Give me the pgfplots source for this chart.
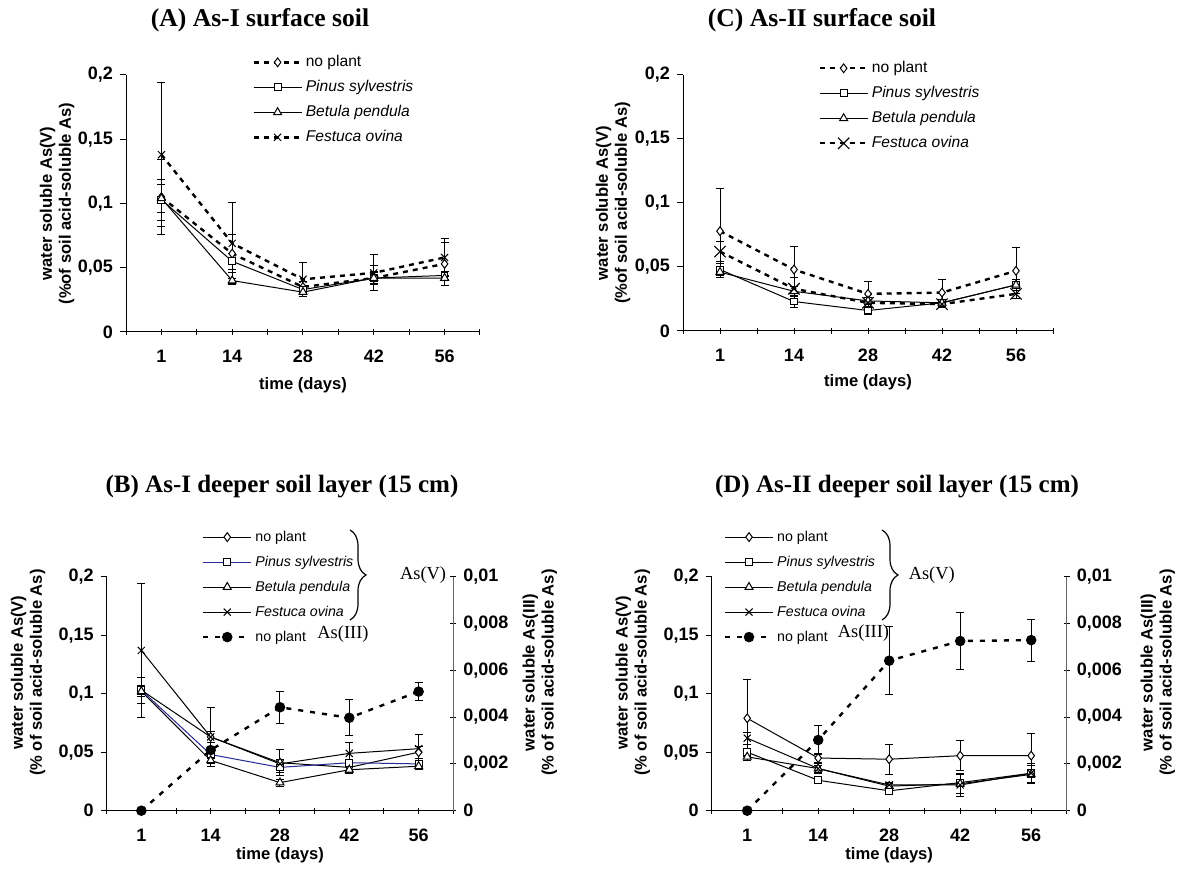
\documentclass[border=0pt]{standalone}
\usepackage{fontspec}
\setmainfont{Liberation Serif}
\setsansfont{Liberation Sans}
\usepackage{pgfplots}
\pgfplotsset{compat=1.18}
\usetikzlibrary{decorations.pathreplacing}

\definecolor{pinusblue}{RGB}{40,40,150}

\pgfplotsset{
  soil/.style={
    scale only axis,
    axis x line=bottom, axis y line=left,
    axis line style={-, line width=0.5pt},
    xmin=-0.5, xmax=4.5, ymin=0, ymax=0.2,
    xtick={0,...,4}, xticklabels={1,14,28,42,56},
    minor xtick={-0.5,0.5,1.5,2.5,3.5,4.5},
    ytick={0,0.05,0.1,0.15,0.2},
    yticklabels={0,{0,05},{0,1},{0,15},{0,2}},
    scaled y ticks=false,
    xtick align=center, ytick align=outside,
    major tick length=3pt, minor tick length=3pt,
    tick style={black, line width=0.5pt},
    tick label style={font=\sffamily\bfseries\fontsize{9}{10}\selectfont},
    xticklabel style={yshift=-4pt},
    label style={font=\sffamily\bfseries\fontsize{8.3}{9.5}\selectfont, align=center},
    clip=false,
    legend cell align=left,
    legend style={draw=none, fill=none, inner sep=0pt, row sep=5pt, column sep=1.5pt,
      nodes={inner sep=0pt, text height=6pt, text depth=1.5pt,
        font=\sffamily\fontsize{7.8}{9}\selectfont}},
    legend image code/.code={\draw[mark repeat=2,mark phase=2,#1]
      plot coordinates {(0pt,0pt) (12pt,0pt) (24pt,0pt)};},
  },
  deep/.style={
    legend style={nodes={font=\sffamily\fontsize{7.1}{8}\selectfont}},
  },
  right3/.style={
    axis x line=none, axis y line=right,
    y axis line style={-, black!60, line width=0.5pt},
    ytick align=center,
    ymin=0, ymax=0.01, ytick={0,0.002,0.004,0.006,0.008,0.01},
    yticklabels={0,{0,002},{0,004},{0,006},{0,008},{0,01}},
    scaled y ticks=false,
    ylabel={water soluble As(III)\\(\% of soil acid-soluble As)},
  },
  eb/.style={/pgfplots/error bars/y dir=both, /pgfplots/error bars/y explicit,
    /pgfplots/error bars/error bar style={solid, black, line width=0.5pt},
    /pgfplots/error bars/error mark options={rotate=90, solid, black, mark size=2pt, line width=0.5pt}},
  sNo/.style={black, line width=1.2pt, dash pattern=on 2.5pt off 2.5pt, mark=diamond*,
    mark options={solid, fill=white, line width=0.5pt, mark size=2.2pt}},
  sNoS/.style={black, line width=0.5pt, mark=diamond*,
    mark options={solid, fill=white, line width=0.5pt, mark size=2.2pt}},
  sPin/.style={black, line width=0.5pt, mark=square*,
    mark options={solid, fill=white, line width=0.5pt, mark size=1.7pt}},
  sPinB/.style={draw=pinusblue, line width=0.5pt, mark=square*,
    mark options={solid, draw=black, fill=white, line width=0.5pt, mark size=1.7pt}},
  sBet/.style={black, line width=0.5pt, mark=triangle*,
    mark options={solid, fill=white, line width=0.5pt, mark size=2.3pt}},
  sFes/.style={black, line width=1.2pt, dash pattern=on 2.5pt off 2.5pt, mark=x,
    mark options={solid, line width=0.5pt, mark size=2.5pt}},
  sFesC/.style={black, line width=1.2pt, dash pattern=on 2.5pt off 2.5pt, mark=x,
    mark options={solid, line width=0.6pt, mark size=4pt}},
  sFesS/.style={black, line width=0.5pt, mark=x,
    mark options={solid, line width=0.5pt, mark size=2.5pt}},
  sIII/.style={black, line width=1.2pt, dash pattern=on 2.5pt off 3.5pt, mark=*,
    mark options={solid, fill=black, mark size=2pt}},
}

\begin{document}
\begin{tikzpicture}
\path[use as bounding box] (0,0) rectangle (589.5pt,435.5pt);

% ---------- (A) ----------
\node[font=\bfseries\fontsize{12.8}{14}\selectfont] at (130pt,425.5pt) {(A) As-I surface soil};
\begin{axis}[soil, at={(63pt,269.5pt)}, anchor=south west, width=177pt, height=128.5pt,
  xlabel={time (days)}, ylabel={water soluble As(V)\\(\%of soil acid-soluble As)},
  xlabel style={at={(axis description cs:0.5,-0.206)}, anchor=center},
  ylabel style={at={(axis description cs:-0.195,0.5)}, anchor=center},
  legend style={at={(0.356,1.08)}, anchor=north west}]
\addplot[sNo, eb] table[x=x,y=y,y error=e] {
x y e
0 0.105 0.029
1 0.061 0.015
2 0.035 0.004
3 0.042 0.010
4 0.053 0.017
};
\addplot[sPin, eb] table[x=x,y=y,y error=e] {
x y e
0 0.103 0.016
1 0.055 0.006
2 0.033 0.003
3 0.042 0.005
4 0.044 0.003
};
\addplot[sBet, eb] table[x=x,y=y,y error=e] {
x y e
0 0.104 0.011
1 0.040 0.002
2 0.031 0.003
3 0.042 0.004
4 0.042 0.002
};
\addplot[sFes, eb] table[x=x,y=y,y error=e] {
x y e
0 0.138 0.056
1 0.069 0.032
2 0.041 0.013
3 0.046 0.014
4 0.058 0.015
};
\addlegendentry{no plant}
\addlegendentry{\textit{Pinus sylvestris}}
\addlegendentry{\textit{Betula pendula}}
\addlegendentry{\textit{Festuca ovina}}
\end{axis}

% ---------- (C) ----------
\node[font=\bfseries\fontsize{12.8}{14}\selectfont] at (411pt,425.5pt) {(C) As-II surface soil};
\begin{axis}[soil, at={(341.5pt,270pt)}, anchor=south west, width=185pt, height=128pt,
  xlabel={time (days)}, ylabel={water soluble As(V)\\(\%of soil acid-soluble As)},
  xlabel style={at={(axis description cs:0.5,-0.2)}, anchor=center},
  ylabel style={at={(axis description cs:-0.189,0.5)}, anchor=center},
  legend style={at={(0.365,1.057)}, anchor=north west}]
\addplot[sNo, eb] table[x=x,y=y,y error=e] {
x y e
0 0.078 0.033
1 0.048 0.018
2 0.029 0.010
3 0.030 0.010
4 0.047 0.018
};
\addplot[sPin, eb] table[x=x,y=y,y error=e] {
x y e
0 0.048 0.005
1 0.023 0.005
2 0.016 0.003
3 0.022 0.002
4 0.036 0.004
};
\addplot[sBet, eb] table[x=x,y=y,y error=e] {
x y e
0 0.046 0.004
1 0.031 0.004
2 0.0235 0.003
3 0.022 0.002
4 0.036 0.003
};
\addplot[sFesC, eb] table[x=x,y=y,y error=e] {
x y e
0 0.062 0.008
1 0.033 0.009
2 0.022 0.004
3 0.021 0.003
4 0.029 0.004
};
\addlegendentry{no plant}
\addlegendentry{\textit{Pinus sylvestris}}
\addlegendentry{\textit{Betula pendula}}
\addlegendentry{\textit{Festuca ovina}}
\end{axis}

% ---------- (B) ----------
\node[font=\bfseries\fontsize{12.5}{14}\selectfont] at (141pt,192pt) {(B) As-I deeper soil layer (15 cm)};
\begin{axis}[soil, deep, at={(53.35pt,30.15pt)}, anchor=south west, width=173.3pt, height=117pt,
  xlabel={time (days)}, ylabel={water soluble As(V)\\(\% of soil acid-soluble As)},
  xlabel style={at={(axis description cs:0.5,-0.19)}, anchor=center},
  ylabel style={at={(axis description cs:-0.227,0.59)}, anchor=center},
  legend style={at={(0.274,1.203)}, anchor=north west}]
\addplot[sNoS, eb] table[x=x,y=y,y error=e] {
x y e
0 0.103 0.011
1 0.063 0.005
2 0.041 0.011
3 0.037 0.004
4 0.050 0.005
};
\addplot[sPinB, eb] table[x=x,y=y,y error=e] {
x y e
0 0.103 0.004
1 0.048 0.003
2 0.037 0.004
3 0.041 0.003
4 0.040 0.003
};
\addplot[sBet, eb] table[x=x,y=y,y error=e] {
x y e
0 0.102 0.004
1 0.043 0.003
2 0.024 0.003
3 0.035 0.003
4 0.038 0.003
};
\addplot[sFesS, eb] table[x=x,y=y,y error=e] {
x y e
0 0.137 0.057
1 0.063 0.025
2 0.040 0.004
3 0.049 0.009
4 0.053 0.012
};
\addlegendentry{no plant}
\addlegendentry{\textit{Pinus sylvestris}}
\addlegendentry{\textit{Betula pendula}}
\addlegendentry{\textit{Festuca ovina}}
\addlegendimage{sIII}
\addlegendentry{no plant}
\end{axis}
\begin{axis}[soil, right3, at={(53.35pt,30.15pt)}, anchor=south west, width=173.3pt, height=117pt,
  ylabel style={at={(axis description cs:1.25,0.59)}, anchor=center, align=center,
    font=\sffamily\bfseries\fontsize{8.3}{9.5}\selectfont}]
\addplot[sIII, eb] table[x=x,y=y,y error=e] {
x y e
0 0 0
1 0.00259 0.0001
2 0.00442 0.00068
3 0.00397 0.00077
4 0.00509 0.00037
};
\end{axis}
\draw[decorate, decoration={brace, amplitude=8pt}, line width=0.6pt] (175pt,170.5pt) -- (175pt,125.5pt);
\node[anchor=west, font=\fontsize{9.2}{10}\selectfont] at (196.5pt,148pt) {As(V)};
\node[font=\fontsize{9.2}{10}\selectfont] at (171.5pt,118.5pt) {As(III)};

% ---------- (D) ----------
\node[font=\bfseries\fontsize{12.5}{14}\selectfont] at (448.5pt,192pt) {(D) As-II deeper soil layer (15 cm)};
\begin{axis}[soil, deep, at={(355.85pt,30.15pt)}, anchor=south west, width=177.5pt, height=117pt,
  xlabel={time (days)}, ylabel={water soluble As(V)\\(\% of soil acid-soluble As)},
  xlabel style={at={(axis description cs:0.5,-0.19)}, anchor=center},
  ylabel style={at={(axis description cs:-0.222,0.59)}, anchor=center},
  legend style={at={(0.033,1.203)}, anchor=north west}]
\addplot[sNoS, eb] table[x=x,y=y,y error=e] {
x y e
0 0.079 0.033
1 0.045 0.004
2 0.044 0.013
3 0.047 0.013
4 0.047 0.019
};
\addplot[sPin, eb] table[x=x,y=y,y error=e] {
x y e
0 0.050 0.003
1 0.026 0.002
2 0.017 0.002
3 0.024 0.003
4 0.032 0.003
};
\addplot[sBet, eb] table[x=x,y=y,y error=e] {
x y e
0 0.046 0.003
1 0.036 0.003
2 0.021 0.002
3 0.023 0.008
4 0.031 0.008
};
\addplot[sFesS, eb] table[x=x,y=y,y error=e] {
x y e
0 0.062 0.005
1 0.036 0.004
2 0.022 0.002
3 0.022 0.010
4 0.032 0.008
};
\addlegendentry{no plant}
\addlegendentry{\textit{Pinus sylvestris}}
\addlegendentry{\textit{Betula pendula}}
\addlegendentry{\textit{Festuca ovina}}
\addlegendimage{sIII}
\addlegendentry{no plant}
\end{axis}
\begin{axis}[soil, right3, at={(355.85pt,30.15pt)}, anchor=south west, width=177.5pt, height=117pt,
  ylabel style={at={(axis description cs:1.257,0.59)}, anchor=center, align=center,
    font=\sffamily\bfseries\fontsize{8.3}{9.5}\selectfont}]
\addplot[sIII, eb] table[x=x,y=y,y error=e] {
x y e
0 0 0
1 0.00302 0.0006
2 0.00641 0.00146
3 0.00725 0.0012
4 0.00729 0.0009
};
\end{axis}
\draw[decorate, decoration={brace, amplitude=8pt}, line width=0.6pt] (441pt,170.5pt) -- (441pt,125.5pt);
\node[anchor=west, font=\fontsize{9.2}{10}\selectfont] at (450.85pt,148pt) {As(V)};
\node[font=\fontsize{9.2}{10}\selectfont] at (431.75pt,119pt) {As(III)};
\end{tikzpicture}
\end{document}
